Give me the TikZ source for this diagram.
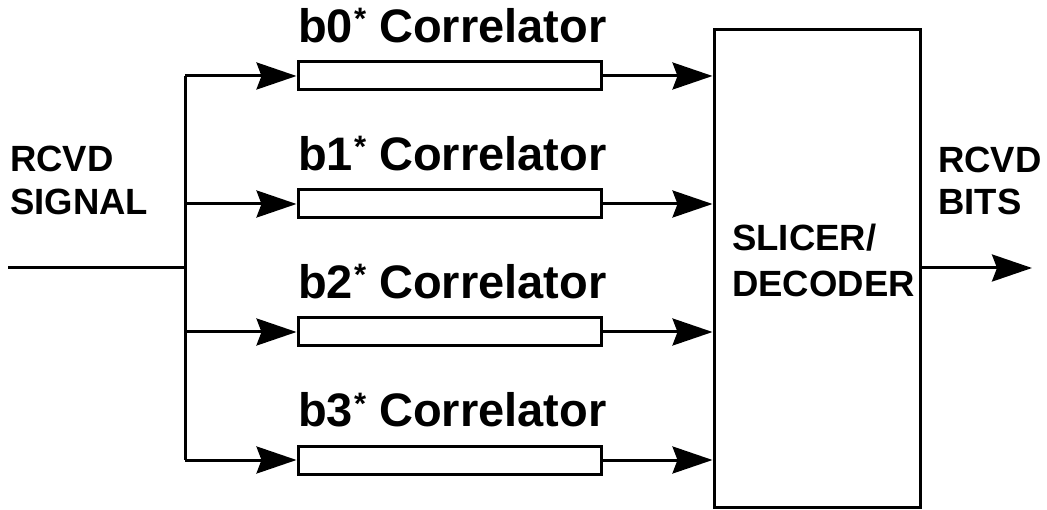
\documentclass[tikz,border=0pt]{standalone}
\usepackage{fontspec}
\setmainfont{Liberation Sans}
\usetikzlibrary{arrows.meta}
\newcommand{\corrstar}{\hspace{1pt}\raisebox{13pt}{\fontsize{31}{31}\selectfont *}}
\tikzset{
  lw/.style={line width=3pt},
  corrbox/.style={draw, lw, minimum width=303pt, minimum height=28pt, inner sep=0pt},
  slicerbox/.style={draw, lw, minimum width=206pt, minimum height=477pt, inner sep=0pt},
  titlelbl/.style={anchor=base west, inner sep=0pt, font=\bfseries\fontsize{47}{50}\selectfont},
  sidelbl/.style={anchor=base west, inner sep=0pt, font=\bfseries\fontsize{36.5}{40}\selectfont},
  slbl/.style={anchor=base west, inner sep=0pt, font=\bfseries\fontsize{36.5}{40}\selectfont},
  arr/.style={lw, -{Stealth[length=40pt, width=27pt, inset=5pt]}},
}
\begin{document}
\begin{tikzpicture}[x=1pt, y=-1pt]
\useasboundingbox (0,0) rectangle (1047,510);
% slicer
\node[slicerbox] (slicer) at (817,268.5) {};
% correlators
\foreach \i/\y in {0/76,1/204,2/332,3/460}{
  \node[corrbox] (c\i) at (449.5,\y) {};
  \node[titlelbl] (t\i) at (298,\y-33) {b\i\corrstar\ Correlator};
  \coordinate (bus\i) at (185,\y);
}
% input
\coordinate (in) at (8,268);
\coordinate (busm) at (185,268);
\draw[lw] (in) -- (busm);
\draw[lw] (bus0) -- (bus3);
\foreach \i in {0,1,2,3}{
  \draw[arr] (bus\i) -- (c\i.west);
  \draw[arr] (c\i.east) -- (c\i.east -| slicer.west);
}
% output
\coordinate (out) at (1032,268);
\draw[arr] (slicer.east |- out) -- (out);
% labels
\node[sidelbl] (sig1) at (10,172) {RCVD};
\node[sidelbl] (sig2) at (10,215) {SIGNAL};
\node[sidelbl] (bit1) at (938,173) {RCVD};
\node[sidelbl] (bit2) at (938,215) {BITS};
\node[slbl] (sl1) at (732,251) {SLICER/};
\node[slbl] (sl2) at (732,297) {DECODER};
\end{tikzpicture}
\end{document}
